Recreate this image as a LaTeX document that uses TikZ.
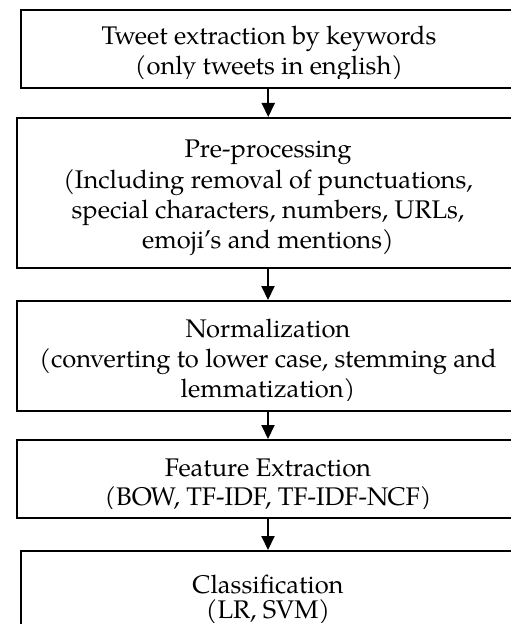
\documentclass[tikz,border=0pt]{standalone}
\usepackage{fontspec}
\setmainfont{TeX Gyre Pagella}
\usetikzlibrary{arrows.meta}
\begin{document}
\begin{tikzpicture}[x=1bp,y=-1bp,
  box/.style={draw=black, line width=2bp, rectangle, inner sep=0pt},
  txt/.style={anchor=base, inner sep=0pt, font=\fontsize{25.5bp}{30bp}\selectfont},
  arr/.style={line width=2bp, -{Triangle[width=13bp,length=14bp]}}]
\useasboundingbox (0,0) rectangle (511,624);
\fill[white] (0,0) rectangle (511,624);
\clip (0,0) rectangle (511,624);
% boxes
\node[box, minimum width=493.5bp, minimum height=78bp]  (b1) at (268.25,49) {};
\node[box, minimum width=502bp,   minimum height=150bp] (b2) at (268,193) {};
\node[box, minimum width=502bp,   minimum height=110bp] (b3) at (268,356) {};
\node[box, minimum width=502bp,   minimum height=78bp]  (b4) at (268,479) {};
\node[box, minimum width=494bp,   minimum height=120bp] (b5) at (268,611) {};
% texts
\begin{scope}
\clip (0,10) rectangle (511,78.5);
\node[txt] (t1a) at (269,45) {Tweet extraction by keywords};
\node[txt] (t1b) at (269,75) {(only tweets in english)};
\end{scope}
\node[txt] (t2a) at (268,158) {Pre-processing};
\node[txt] (t2b) at (268,188) {(Including removal of punctuations,};
\node[txt] (t2c) at (268,218) {special characters, numbers, URLs,};
\node[txt] (t2d) at (268,248) {emoji’s and mentions)};
\begin{scope}
\clip (0,301) rectangle (511,400);
\node[txt] (t3a) at (268,337) {Normalization};
\node[txt] (t3b) at (268,367) {(converting to lower case, stemming and};
\node[txt] (t3c) at (268,397) {lemmatization)};
\end{scope}
\begin{scope}
\clip (0,440) rectangle (511,508);
\node[txt] (t4a) at (268,476) {Feature Extraction};
\node[txt] (t4b) at (268,505) {(BOW, TF-IDF, TF-IDF-NCF)};
\end{scope}
\begin{scope}
\clip (0,551) rectangle (511,622);
\node[txt] (t5a) at (268,593) {Classification};
\node[txt] (t5b) at (268,618) {(LR, SVM)};
\end{scope}
% arrows
\draw[arr] (b1.south) -- (b1.south |- b2.north);
\draw[arr] (b2.south) -- (b3.north);
\draw[arr] (b3.south) -- (b4.north);
\draw[arr] (b4.south) -- (b5.north);
\end{tikzpicture}
\end{document}
